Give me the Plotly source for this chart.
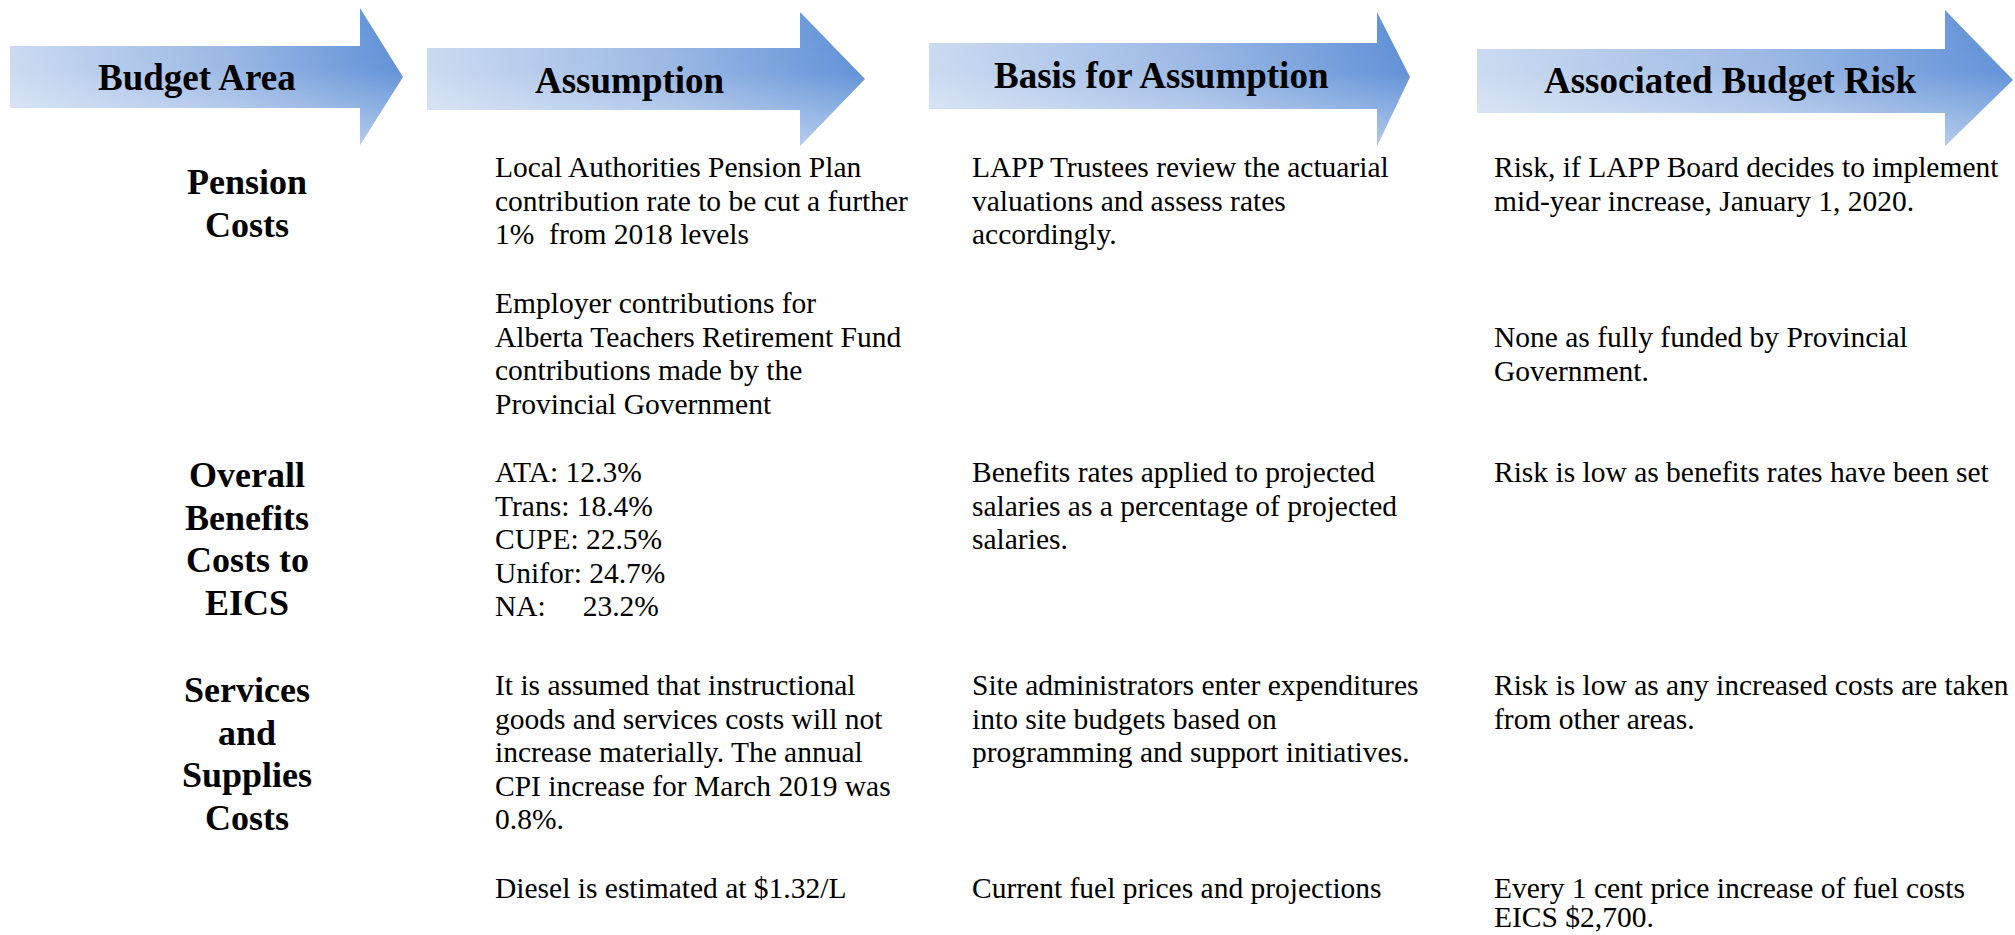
import plotly.graph_objects as go

# ---------------- content ----------------
headers = ["Budget Area", "Assumption", "Basis for Assumption", "Associated Budget Risk"]

budget_areas = [
    ["Pension", "Costs"],
    ["Overall", "Benefits", "Costs to", "EICS"],
    ["Services", "and", "Supplies", "Costs"],
]

assumptions = [
    ["Local Authorities Pension Plan", "contribution rate to be cut a further", "1%  from 2018 levels"],
    ["Employer contributions for", "Alberta Teachers Retirement Fund", "contributions made by the", "Provincial Government"],
    ["ATA: 12.3%", "Trans: 18.4%", "CUPE: 22.5%", "Unifor: 24.7%", "NA:\u00a0\u00a0\u00a0\u00a0 23.2%"],
    ["It is assumed that instructional", "goods and services costs will not", "increase materially. The annual",
     "CPI increase for March 2019 was", "0.8%."],
    ["Diesel is estimated at $1.32/L"],
]

bases = [
    ["LAPP Trustees review the actuarial", "valuations and assess rates", "accordingly."],
    ["Benefits rates applied to projected", "salaries as a percentage of projected", "salaries."],
    ["Site administrators enter expenditures", "into site budgets based on", "programming and support initiatives."],
    ["Current fuel prices and projections"],
]

risks = [
    ["Risk, if LAPP Board decides to implement", "mid-year increase, January 1, 2020."],
    ["None as fully funded by Provincial", "Government."],
    ["Risk is low as benefits rates have been set"],
    ["Risk is low as any increased costs are taken", "from other areas."],
    ["Every 1 cent price increase of fuel costs", "EICS $2,700."],
]

# ---------------- layout / geometry (pixels) ----------------
W, H = 2015, 935
FONT = "Liberation Serif"
BODY_SIZE = 29.5
BODY_LS = 33.5
LAST_LS = 28.5          # last block sits tight against the page bottom
LABEL_SIZE = 36
LABEL_LS = 42.7
HEAD_SIZE = 37

# arrow geometry: (body_x0, body_y0, body_y1, head_x, head_y0, head_y1, tip_x, tip_y)
arrows = [
    (10, 46, 108, 360, 8, 145, 403, 77),
    (427, 48, 110, 800, 12, 146, 865, 79),
    (929, 43, 109, 1377, 12, 146, 1410, 77),
    (1477, 49, 113, 1945, 10, 146, 2013, 80),
]
header_pos = [(197, 77), (630, 80), (1161, 75), (1730, 80)]

label_x = 247
label_y = [182, 475, 690]
col_x = [493, 970, 1492]
assump_y = [167, 303, 472, 685, 888]
basis_y = [167, 472, 685, 888]
risk_y = [167, 337, 472, 685, 888]

fig = go.Figure()

for (x0, by0, by1, hx, hy0, hy1, tx, ty) in arrows:
    xs = [x0, hx, hx, tx, hx, hx, x0, x0]
    ys = [by0, by0, hy0, ty, hy1, by1, by1, by0]
    fig.add_trace(go.Scatter(
        x=xs, y=ys, mode="lines", fill="toself",
        line=dict(width=0, color="rgba(0,0,0,0)"),
        fillgradient=dict(type="horizontal", start=x0, stop=tx,
                          colorscale=[[0, "#c9d9f0"], [0.55, "#98b6e3"], [1, "#5a8dd6"]]),
        hoverinfo="skip", showlegend=False))
    fig.add_trace(go.Scatter(
        x=xs, y=ys, mode="lines", fill="toself",
        line=dict(width=0, color="rgba(0,0,0,0)"),
        fillgradient=dict(type="vertical", start=hy0, stop=hy1,
                          colorscale=[[0, "rgba(255,255,255,0)"], [0.45, "rgba(255,255,255,0.05)"],
                                      [1, "rgba(255,255,255,0.5)"]]),
        hoverinfo="skip", showlegend=False))

ann = []
for text, (cx, cy) in zip(headers, header_pos):
    ann.append(dict(x=cx, y=cy, text=f"<b>{text}</b>", xanchor="center", yanchor="middle",
                    font=dict(family=FONT, size=HEAD_SIZE, color="black")))

for lines, y0 in zip(budget_areas, label_y):
    for i, ln in enumerate(lines):
        ann.append(dict(x=label_x, y=y0 + i * LABEL_LS, text=f"<b>{ln}</b>", xanchor="center",
                        yanchor="middle", font=dict(family=FONT, size=LABEL_SIZE, color="black")))

for col, (blocks, ys) in enumerate([(assumptions, assump_y), (bases, basis_y), (risks, risk_y)]):
    for b, (lines, y0) in enumerate(zip(blocks, ys)):
        ls = LAST_LS if b == len(blocks) - 1 else BODY_LS
        for i, ln in enumerate(lines):
            ann.append(dict(x=col_x[col], y=y0 + i * ls, text=ln, xanchor="left",
                            yanchor="middle", font=dict(family=FONT, size=BODY_SIZE, color="black")))

for a in ann:
    a.update(xref="x", yref="y", showarrow=False)

fig.update_layout(
    width=W, height=H, margin=dict(l=0, r=0, t=0, b=0),
    paper_bgcolor="white", plot_bgcolor="white",
    xaxis=dict(range=[0, W], visible=False, fixedrange=True),
    yaxis=dict(range=[H, 0], visible=False, fixedrange=True),
    annotations=ann, showlegend=False,
)

fig.write_html("out.html", config={"displayModeBar": False},
               post_script="document.body.style.margin='0';document.body.style.overflow='hidden';")
